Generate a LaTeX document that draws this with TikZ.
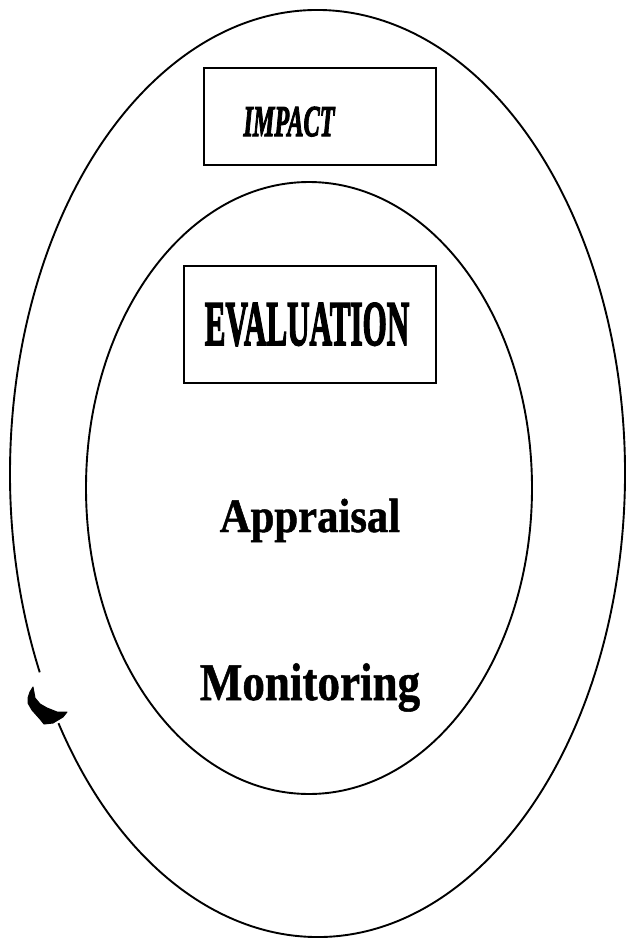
\documentclass[tikz,border=0pt]{standalone}
\usepackage{fontspec}
\setmainfont{Liberation Serif}
\newfontfamily\heavyfont[FakeBold=3]{Liberation Serif}
\newfontfamily\semiheavyfont[FakeBold=1]{Liberation Serif}
\usetikzlibrary{calc}
\tikzset{
  ring/.style={line width=1.9pt},
  boxed/.style={draw, line width=2.4pt, inner sep=0pt},
  label/.style={inner sep=0pt, anchor=base},
}
\begin{document}
\begin{tikzpicture}[x=1pt,y=1pt]
\useasboundingbox (0,0) rectangle (627,-939);
% centres of the rings
\coordinate (O) at (317.5,-473.5);
\coordinate (I) at (309,-488);
% outer ring with a gap for the arrow head
\draw[ring] ([shift={(212.6:307.5pt and 463.5pt)}]O) arc[start angle=212.6, end angle=565.4, x radius=307.5pt, y radius=463.5pt];
% arrow head on the outer ring
\filldraw[line width=1pt, line join=round] (33,-687) -- (30,-692) -- (28,-698) -- (28,-703) -- (32,-710) -- (40,-719) -- (44,-724) -- (53,-723) -- (63,-717) -- (67,-712) -- (57,-712) -- (47,-708) -- (40,-704) -- (35,-698) -- cycle;
% inner ring
\draw[ring] (I) ellipse [x radius=223pt, y radius=306pt];
% boxes
\node[boxed, minimum width=232pt, minimum height=97pt] (impactbox) at (320,-116.5) {};
\node[boxed, minimum width=252pt, minimum height=117pt] (evalbox) at (310,-324.5) {};
% texts
\node[label, font=\heavyfont\bfseries\itshape] (impact) at (289,-136) {\fontsize{44}{44}\selectfont\scalebox{0.55}[1]{IMPACT}};
\node[label, font=\heavyfont\bfseries] (evaluation) at (307,-345) {\fontsize{63.5}{63.5}\selectfont\scalebox{0.49}[1]{EVALUATION}};
\node[label, font=\semiheavyfont\bfseries] (appraisal) at (310,-532) {\fontsize{48}{48}\selectfont\scalebox{0.89}[1]{Appraisal}};
\node[label, font=\semiheavyfont\bfseries] (monitoring) at (310,-700) {\fontsize{53}{53}\selectfont\scalebox{0.85}[1]{Monitoring}};
\end{tikzpicture}
\end{document}
